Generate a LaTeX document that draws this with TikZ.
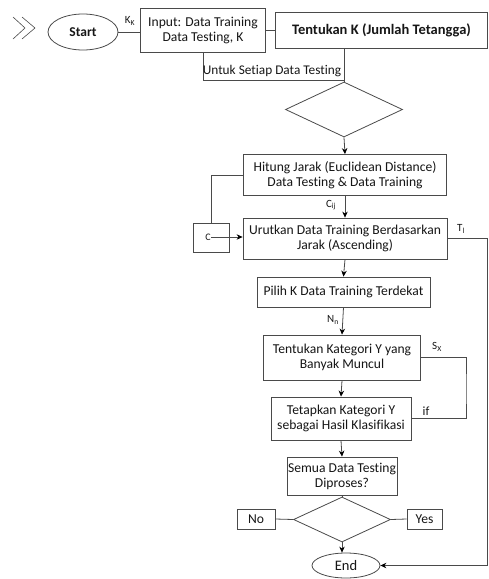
\documentclass[tikz,border=0pt]{standalone}
\usepackage{fontspec}
\setmainfont{Carlito}[Ligatures={NoCommon}]
\usetikzlibrary{arrows.meta,shapes.geometric}
\definecolor{LineGray}{HTML}{4A4A4A}
\definecolor{InkBlack}{HTML}{161616}
\tikzset{
  pbox/.style={rectangle,draw=LineGray,fill=white,line width=0.8pt,align=center,
               inner sep=1pt,text=InkBlack,font=\fontsize{13.6}{15}\selectfont},
  term/.style={ellipse,draw=LineGray,fill=white,line width=0.8pt,inner sep=0pt,
               text=InkBlack},
  dec/.style={diamond,draw=LineGray,fill=white,line width=0.8pt,inner sep=0pt},
  lbl/.style={inner sep=0.5pt,text=InkBlack,font=\fontsize{11}{12}\selectfont},
  arr/.style={-{Stealth[length=6pt,width=5.5pt,black]},line width=0.8pt,color=LineGray},
  ln/.style={line width=0.8pt,color=LineGray},
}

\begin{document}
\begin{tikzpicture}[x=1pt,y=-1pt]
  \useasboundingbox (0,0) rectangle (489,579);

  % chevrons
  \draw[LineGray,line width=0.6pt] (13,17) -- (25,28) -- (13,39);
  \draw[LineGray,line width=0.6pt] (22,17) -- (35,28) -- (22,39);

  \node[term,minimum width=70pt,minimum height=36pt,
        font=\fontsize{13.5}{15}\selectfont\bfseries] (start) at (83,32) {Start};
  \node[pbox,minimum width=125pt,minimum height=44pt] (input) at (203,30)
    {Input: Data Training\\Data Testing, K};
  \node[pbox,minimum width=212pt,minimum height=36pt,
        font=\fontsize{14.5}{16}\selectfont\bfseries] (tentk) at (381.5,30)
    {Tentukan K (Jumlah Tetangga)};

  \node[dec,minimum width=117pt,minimum height=55pt] (d1) at (344,109.5) {};

  \node[pbox,minimum width=203pt,minimum height=41pt] (hitung) at (345,175)
    {Hitung Jarak (Euclidean Distance)\\Data Testing \& Data Training};
  \node[pbox,minimum width=204pt,minimum height=41pt] (urut) at (345,238.5)
    {Urutkan Data Training Berdasarkan\\Jarak (Ascending)};
  \node[pbox,minimum width=36pt,minimum height=29pt] (cbox) at (211,237.5) {};
  \node[lbl,font=\fontsize{10}{10}\selectfont] (cmark) at (208,237) {C};

  \node[pbox,minimum width=173pt,minimum height=30pt] (pilih) at (343.5,292)
    {Pilih K Data Training Terdekat};
  \node[pbox,minimum width=157pt,minimum height=45pt] (kat) at (342,357.5)
    {Tentukan Kategori Y yang\\Banyak Muncul};
  \node[pbox,minimum width=140pt,minimum height=43pt] (tetap) at (341,418.5)
    {Tetapkan Kategori Y\\sebagai Hasil Klasifikasi};
  \node[pbox,minimum width=110pt,minimum height=38pt] (semua) at (342,476)
    {Semua Data Testing\\Diproses?};

  \node[dec,minimum width=97pt,minimum height=45pt] (d2) at (342,519.5) {};
  \node[pbox,minimum width=38pt,minimum height=20pt] (no) at (256,519) {No};
  \node[pbox,minimum width=35pt,minimum height=20pt] (yes) at (424.5,519) {Yes};
  \node[term,minimum width=68pt,minimum height=25pt,
        font=\fontsize{14.5}{16}\selectfont] (endn) at (346,565.5) {End};

  \coordinate (untuk) at (344,80);
  \coordinate (tcor)  at (487,565.5);
  \coordinate (sxc)   at (466,390);

  % top row
  \draw[ln] (start.east) -- (start.east -| input.west);
  \draw[ln] (input.east) -- (tentk.west);
  \draw[ln] (input.south) |- (untuk);
  \draw[ln] (d1.north |- tentk.south) -- (d1.north);
  \draw[arr] (d1.south) -- (hitung.north);

  % distance and sort
  \draw[arr] (hitung.south) -- (urut.north);
  \draw[ln] (hitung.west) -| (cbox.north);
  \draw[arr] (cmark.east) -- (cmark.east -| urut.west);
  \draw[arr] (urut.east) -| (tcor) -- (endn.east);
  \draw[arr] (urut.south) -- (pilih.north);
  \draw[arr] (pilih.south) -- (kat.north);

  % voting
  \draw[ln] (kat.east) -| (sxc) |- (tetap.east);
  \draw[arr] (kat.south) -- (tetap.north);
  \draw[arr] (tetap.south) -- (semua.north);
  \draw[ln] (semua.south) -- (d2.north);
  \draw[ln] (no.east) -- (d2.west);
  \draw[ln] (d2.east) -- (yes.west);
  \draw[arr] (d2.south) -- (d2.south |- endn.north);

  % labels
  \node[lbl] (lk) at (130,21) {K\textsubscript{K}};
  \node[lbl,font=\fontsize{13.3}{14}\selectfont] (luntuk) at (272,71)
    {Untuk Setiap Data Testing};
  \node[lbl] (lc) at (331,205) {C\textsubscript{ij}};
  \node[lbl] (lt) at (461,229) {T\textsubscript{l}};
  \node[lbl] (ln) at (333,320) {N\textsubscript{n}};
  \node[lbl] (ls) at (437,347) {S\textsubscript{X}};
  \node[lbl,font=\fontsize{12.5}{13}\selectfont] (lif) at (426,411) {if};

\end{tikzpicture}
\end{document}
